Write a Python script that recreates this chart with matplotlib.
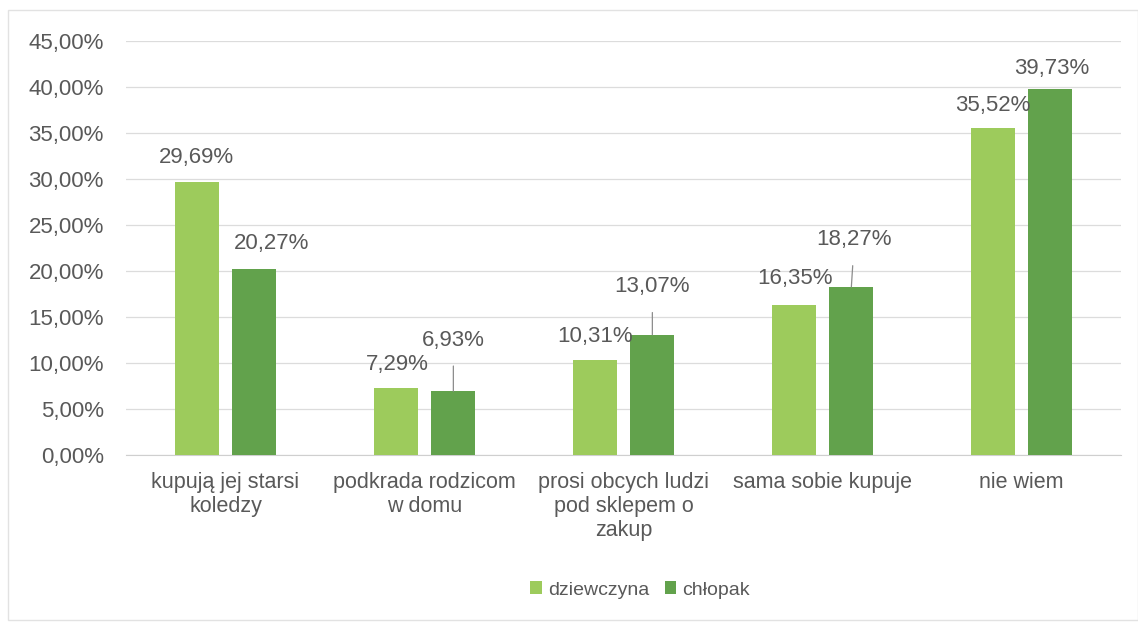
import matplotlib
matplotlib.use("Agg")
import matplotlib.pyplot as plt
from matplotlib.patches import Rectangle
import numpy as np

categories = ["kupują jej starsi\nkoledzy", "podkrada rodzicom\nw domu",
              "prosi obcych ludzi\npod sklepem o\nzakup", "sama sobie kupuje", "nie wiem"]
series_names = ["dziewczyna", "chłopak"]
girls = [29.69, 7.29, 10.31, 16.35, 35.52]
boys = [20.27, 6.93, 13.07, 18.27, 39.73]
yticks = [0, 5, 10, 15, 20, 25, 30, 35, 40, 45]

c_girl = "#9dcb5c"
c_boy = "#62a24c"
txt = "#595959"

fig = plt.figure(figsize=(11.38, 6.23), dpi=100)
fig.patches.append(Rectangle((8/1138, 3/623), 1 - 8/1138, 1 - 13/623, transform=fig.transFigure,
                             fill=False, edgecolor="#e2e2e2", linewidth=1.0))
ax = fig.add_axes([126/1138, 168/623, 995/1138, 414/623])

x = np.arange(len(categories))
w = 0.22
off = 0.145
b1 = ax.bar(x - off, girls, w, color=c_girl, label=series_names[0], zorder=3)
b2 = ax.bar(x + off, boys, w, color=c_boy, label=series_names[1], zorder=3)

ax.set_xlim(-0.5, len(categories) - 0.5)
ax.set_ylim(0, 45)
ax.set_yticks(yticks)
ax.set_yticklabels([f"{v:.2f}%".replace(".", ",") for v in yticks],
                   fontsize=16, color=txt, family="Liberation Sans")
ax.tick_params(axis="y", length=0, pad=16)
ax.set_xticks(x)
ax.set_xticklabels(categories, fontsize=15.5, color=txt, family="Liberation Sans",
                   linespacing=1.2)
ax.tick_params(axis="x", length=0, pad=12)
ax.grid(axis="y", color="#dcdcdc", linewidth=0.9, zorder=0)
for s in ["top", "right", "left"]:
    ax.spines[s].set_visible(False)
ax.spines["bottom"].set_color("#cfcfcf")

def fmt(v):
    return f"{v:.2f}%".replace(".", ",")

# label offsets in pixels (dx, dy, leader line)
girl_off = [(0, 24, False), (2, 23, False), (0, 24, False), (1, 26, False), (0, 23, False)]
boy_off = [(17, 25, False), (0, 51, True), (0, 48, True), (3, 47, True), (1, 21, False)]

for bars, vals, offs in [(b1, girls, girl_off), (b2, boys, boy_off)]:
    for bar, v, (dx, dy, line) in zip(bars, vals, offs):
        xc = bar.get_x() + bar.get_width() / 2
        ap = None
        if line:
            ap = dict(arrowstyle="-", color="#8c8c8c", lw=0.9, shrinkA=9, shrinkB=0)
        ax.annotate(fmt(v), xy=(xc, v), xytext=(dx, dy), textcoords="offset pixels",
                    ha="center", va="center", fontsize=16, color=txt,
                    family="Liberation Sans", arrowprops=ap, zorder=4)

leg = fig.legend(handles=[b1, b2], labels=series_names, loc="center",
                 bbox_to_anchor=(640/1138, 1 - 590/623), ncol=2, frameon=False,
                 handlelength=0.6, handleheight=0.6, handletextpad=0.3,
                 columnspacing=0.8, prop={"family": "Liberation Sans", "size": 14})
for t in leg.get_texts():
    t.set_color(txt)

fig.savefig("out.png", dpi=100)
